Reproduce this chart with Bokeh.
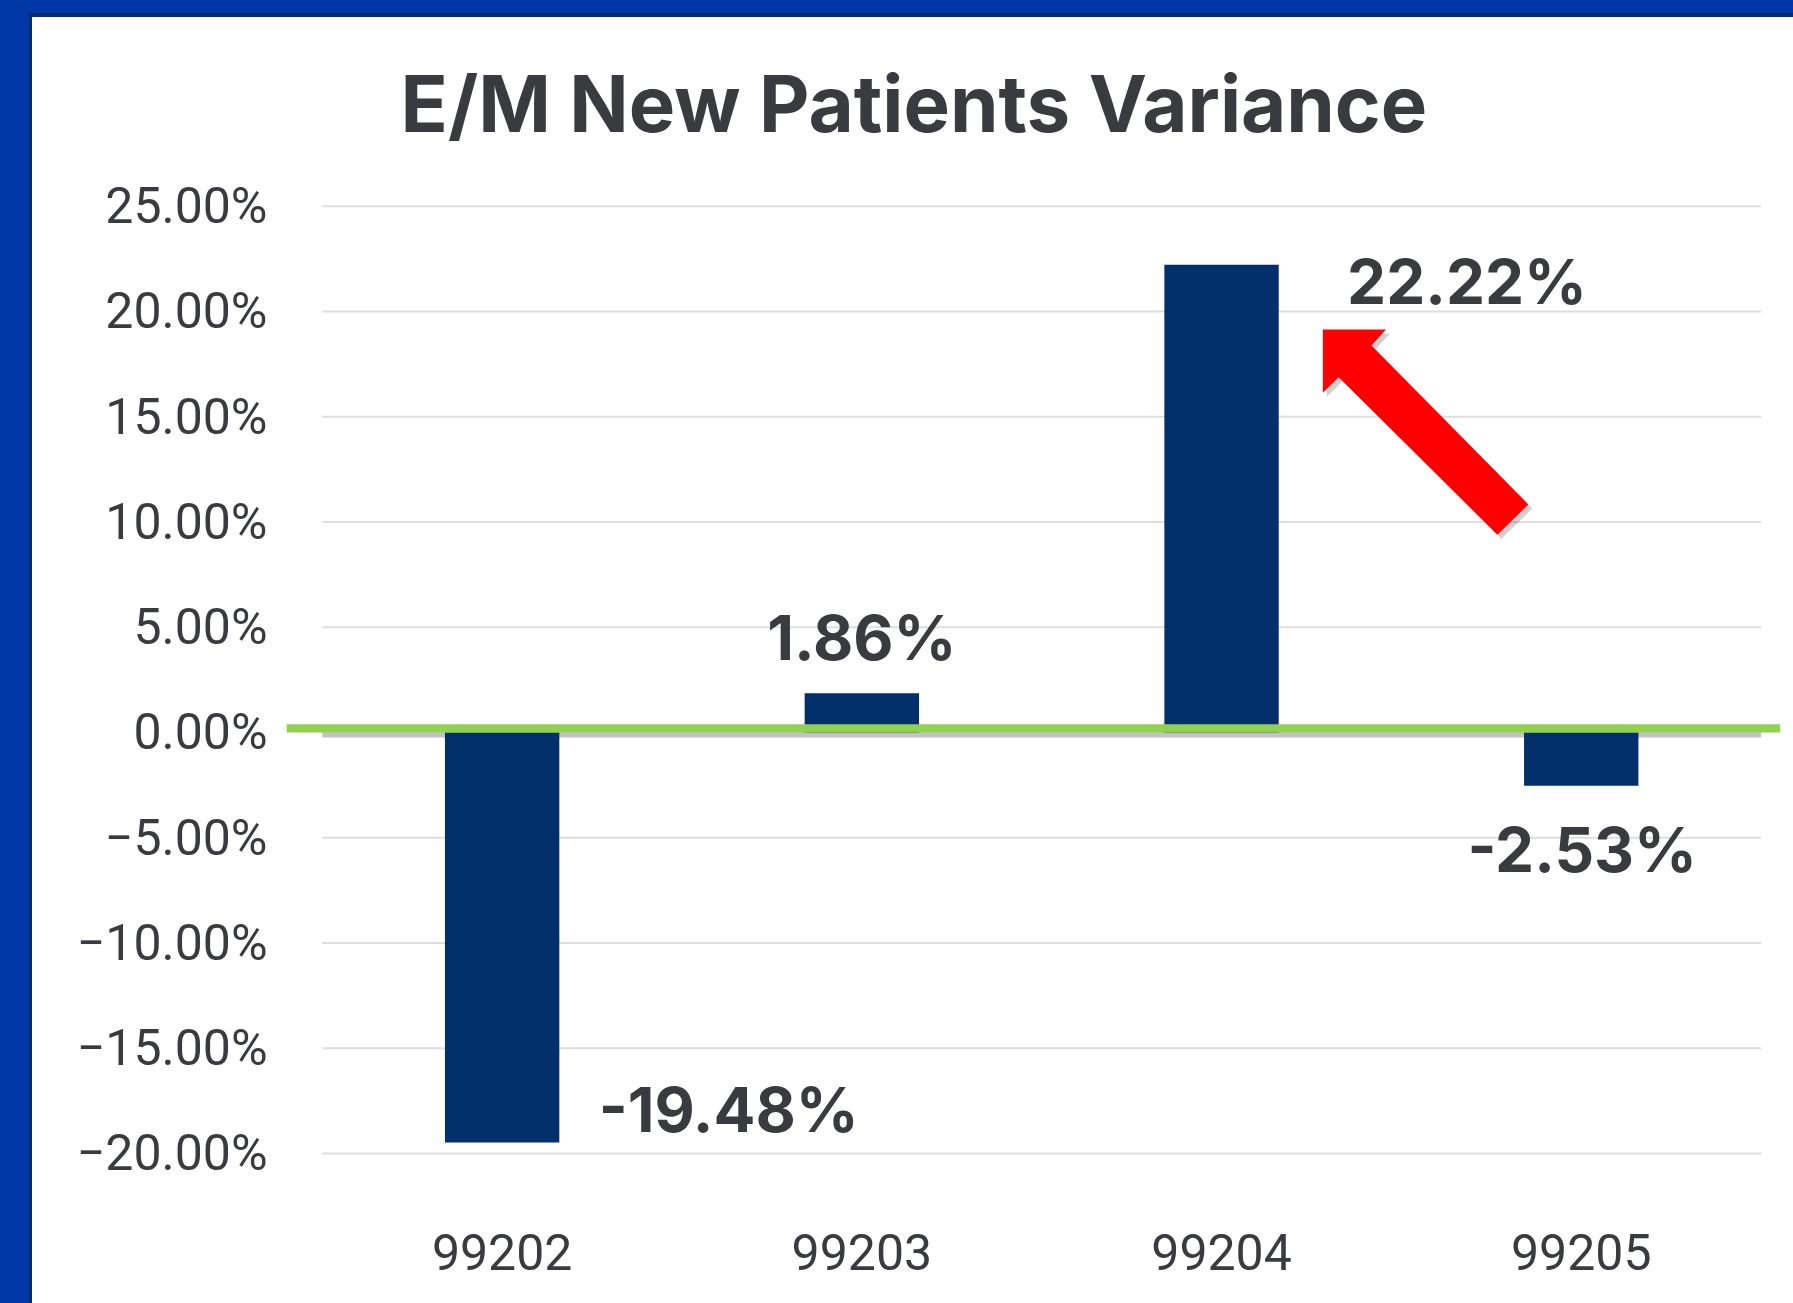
from bokeh.plotting import figure
from bokeh.models import Range1d, FixedTicker, ColumnDataSource
from bokeh.layouts import column
from bokeh.embed import file_html
from bokeh.resources import INLINE
from bokeh.core.properties import value

# ---------------- data ----------------
categories = ["99202", "99203", "99204", "99205"]
variance = [-19.48, 1.86, 22.22, -2.53]
value_labels = ["-19.48%", "1.86%", "22.22%", "-2.53%"]
y_ticks = [-20, -15, -10, -5, 0, 5, 10, 15, 20, 25]
y_tick_labels = ["\u221220.00%", "\u221215.00%", "\u221210.00%", "\u22125.00%", "0.00%",
                 "5.00%", "10.00%", "15.00%", "20.00%", "25.00%"]
chart_title = "E/M New Patients Variance"

# ---------------- layout / style constants ----------------
PLOT_W, PLOT_H = 1761, 1286
FRAME_L, FRAME_R = 254, 1748
FRAME_T, FRAME_B = 163, 1168
PX_X = 359.7      # pixels per category
PX_Y = 21.05      # pixels per percent
X_START = -0.0995
X_END = X_START + (FRAME_R - FRAME_L) / PX_X
Y_END = 26.223
Y_START = Y_END - (FRAME_B - FRAME_T) / PX_Y

BAR_COLOR = "#03306b"
TEXT_COLOR = "#3a3b3e"
GRID_COLOR = "#dedede"
GREEN = "#92d050"
BLUE = "#0037a6"
NAVY = "#0a2b6b"

# label offsets in pixels (x right, y down) relative to bar end
label_dx = [226.6, 0, 245.5, 1]
label_dy = [-32.7, -56, 16.7, 63.7]

p = figure(width=PLOT_W, height=PLOT_H, output_backend="svg", toolbar_location=None,
           tools="", x_range=Range1d(X_START, X_END), y_range=Range1d(Y_START, Y_END),
           min_border_left=FRAME_L, min_border_right=PLOT_W - FRAME_R,
           min_border_top=FRAME_T, min_border_bottom=PLOT_H - FRAME_B)
p.outline_line_color = None
p.background_fill_color = "white"
p.border_fill_color = "white"
p.xgrid.visible = False
p.ygrid.visible = False

# title
p.title.text = chart_title
p.title.text_font = "Inter"
p.title.text_font_size = "78px"
p.title.text_font_style = "bold"
p.title.text_color = TEXT_COLOR
p.title.align = "left"
p.title.offset = 114
p.title.standoff = 60

# axes
xc = [i + 0.5 for i in range(len(categories))]
p.xaxis.ticker = FixedTicker(ticks=xc)
p.xaxis.major_label_overrides = {xc[i]: categories[i] for i in range(len(categories))}
p.yaxis.ticker = FixedTicker(ticks=y_ticks)
p.yaxis.major_label_overrides = {y_ticks[i]: y_tick_labels[i] for i in range(len(y_ticks))}
for ax in (p.xaxis, p.yaxis):
    ax.axis_line_color = None
    ax.major_tick_line_color = None
    ax.minor_tick_line_color = None
    ax.major_label_text_font = "Roboto"
    ax.major_label_text_font_size = "50px"
    ax.major_label_text_color = TEXT_COLOR
p.xaxis.major_label_standoff = 42
p.yaxis.major_label_standoff = 13

# gridlines across the category span
n = len(categories)
p.segment(x0=[0] * len(y_ticks), x1=[n] * len(y_ticks), y0=y_ticks, y1=y_ticks,
          line_color=GRID_COLOR, line_width=2)
# darker zero line (shadow under the green line)
p.segment(x0=[0], x1=[n], y0=[-2.5 / PX_Y], y1=[-2.5 / PX_Y], line_color="#b4b4b4",
          line_width=5, line_alpha=0.8)

# bars
src = ColumnDataSource(dict(x=xc, top=variance, cat=categories))
p.vbar(x="x", top="top", bottom=0, width=0.318, source=src,
       fill_color=BAR_COLOR, line_color=None)

# green zero band
p.quad(left=[X_START], right=[X_END], bottom=[0], top=[8.3 / PX_Y],
       fill_color=GREEN, line_color=None)

# value labels
lsrc = ColumnDataSource(dict(x=xc, y=variance, text=value_labels, dx=label_dx, dy=label_dy))
p.text(x="x", y="y", text="text", x_offset="dx", y_offset="dy", source=lsrc,
       text_align="center", text_baseline="alphabetic",
       text_font=value("Inter"), text_font_size=value("62px"), text_font_style="bold",
       text_color=TEXT_COLOR)

# red arrow pointing at the 99204 bar (shape in pixel offsets from its tip)
tip_dx, tip_dy = 101.3, 64.7
arrow_px = [(0, 0), (63.2, 0), (48.6, 16), (205.5, 175), (174.6, 205.3), (15.9, 47.7), (0, 63.3)]
bx, by = xc[2], variance[2]
tx = bx + tip_dx / PX_X
ty = by - tip_dy / PX_Y
ax_ = [tx + dx / PX_X for dx, dy in arrow_px]
ay_ = [ty - dy / PX_Y for dx, dy in arrow_px]
sh = 4
p.patch([v + sh / PX_X for v in ax_], [v - sh / PX_Y for v in ay_], fill_color="#000000",
        fill_alpha=0.18, line_color=None)
p.patch(ax_, ay_, fill_color="#ff0000", line_color=None)

white = column(p, styles={"background-color": "white"})
inner = column(white, styles={"background-color": NAVY, "padding-left": "3px", "padding-top": "4px"})
layout = column(inner, styles={"background-color": BLUE, "padding-left": "29px", "padding-top": "13px"})

open("out.html", "w").write(file_html(layout, INLINE))
